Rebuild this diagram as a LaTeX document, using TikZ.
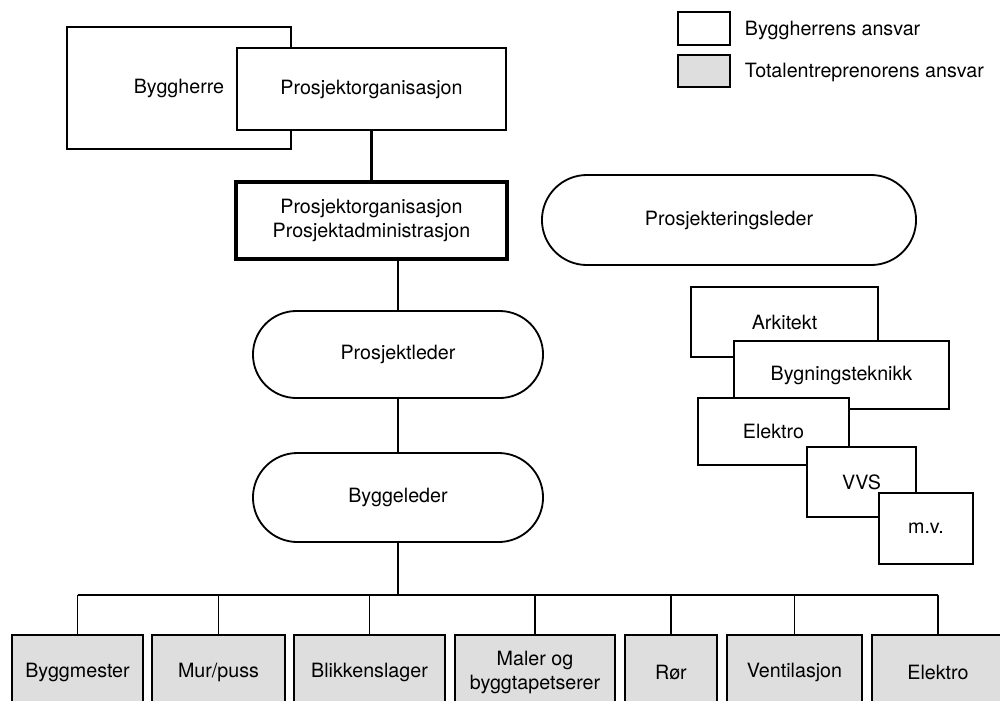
\documentclass[tikz,border=0pt]{standalone}
\usepackage{fontspec}
\setmainfont{TeX Gyre Heros}
\usetikzlibrary{calc, shapes, positioning}
\definecolor{entrgrey}{gray}{0.87}

\tikzset{
	boks/.style={draw, fill=white, line width=1.3pt, inner sep=0pt, align=center},
	tykkboks/.style={boks, line width=2.6pt},
	rundboks/.style={boks, rounded rectangle, rounded rectangle arc length=180},
	entrboks/.style={boks, fill=entrgrey},
	linje/.style={line width=1.2pt},
	tykklinje/.style={line width=2.6pt}
}

\begin{document}
\begin{tikzpicture}[x=0.025cm,y=-0.025cm,every node/.style={font=\fontsize{14}{17}\selectfont}]
	\useasboundingbox (0,0) rectangle (1000,700);

	\coordinate (BH)  at (179,88);
	\coordinate (PO)  at (371.5,89);
	\coordinate (PA)  at (371.5,220.5);
	\coordinate (PRL) at (729,220);
	\coordinate (PL)  at (398,354.5);
	\coordinate (BL)  at (398,497.5);
	\coordinate (bus) at (0,595);

	\coordinate (L1) at (704,28.5);
	\coordinate (L2) at (704,71);

	\coordinate (R1) at (784.5,322);
	\coordinate (R2) at (841.5,375);
	\coordinate (R3) at (773.5,431.5);
	\coordinate (R4) at (861.5,482);
	\coordinate (R5) at (926,528.5);

	% legend
	\node[boks,minimum width=1.3cm,minimum height=0.825cm] (leghvit) at (L1) {};
	\node[entrboks,minimum width=1.3cm,minimum height=0.8cm] (leggraa) at (L2) {};
	\node[anchor=west] (legtekst1) at (740,30) {Byggherrens ansvar};
	\node[anchor=west] (legtekst2) at (740,72) {Totalentreprenorens ansvar};

	% byggherre side
	\node[boks,minimum width=5.6cm,minimum height=3.05cm] (byggherre) at (BH) {Byggherre};
	\node[boks,line width=1.8pt,minimum width=6.725cm,minimum height=2.05cm] (org) at (PO) {Prosjektorganisasjon};
	\node[tykkboks,minimum width=6.775cm,minimum height=1.925cm] (adm) at (PA) {Prosjektorganisasjon\\Prosjektadministrasjon};
	\node[rundboks,minimum width=9.35cm,minimum height=2.25cm] (prl) at (PRL) {Prosjekteringsleder};
	\node[rundboks,minimum width=7.25cm,minimum height=2.175cm] (pl) at (PL) {Prosjektleder};
	\node[rundboks,minimum width=7.25cm,minimum height=2.225cm] (bl) at (BL) {Byggeleder};

	% prosjekterende
	\node[boks,minimum width=4.675cm,minimum height=1.75cm] (arkitekt) at (R1) {Arkitekt};
	\node[boks,minimum width=5.375cm,minimum height=1.7cm] (bygtek) at (R2) {Bygningsteknikk};
	\node[boks,minimum width=3.775cm,minimum height=1.675cm] (elprosj) at (R3) {Elektro};
	\node[boks,minimum width=2.725cm,minimum height=1.75cm] (vvs) at (R4) {VVS};
	\node[boks,minimum width=2.35cm,minimum height=1.775cm] (mv) at (R5) {m.v.};

	% entreprenorer
	\node[entrboks,minimum width=3.275cm,minimum height=1.875cm] (t1) at (77.5,672.5) {Byggmester};
	\node[entrboks,minimum width=3.325cm,minimum height=1.875cm] (t2) at (218.5,672.5) {Mur/puss};
	\node[entrboks,minimum width=3.775cm,minimum height=1.875cm] (t3) at (369.5,672.5) {Blikkenslager};
	\node[entrboks,minimum width=4cm,minimum height=1.875cm] (t4) at (535,672.5) {Maler og\\byggtapetserer};
	\node[entrboks,minimum width=2.3cm,minimum height=1.875cm] (t5) at (671,672.5) {Rør};
	\node[entrboks,minimum width=3.375cm,minimum height=1.875cm] (t6) at (794.5,672.5) {Ventilasjon};
	\node[entrboks,minimum width=3.3cm,minimum height=1.875cm] (t7) at (938,672.5) {Elektro};

	\draw[tykklinje] (org.south) -- (adm.north);
	\draw[linje] (pl.north) -- (pl.north |- adm.south);
	\draw[linje] (pl.south) -- (bl.north);
	\draw[linje] (bl.south) -- (bl.south |- bus);
	\draw[linje] (t1.north |- bus) -- (t7.north |- bus);
	\foreach \t in {t1,t2,t3,t4,t5,t6,t7}
		\draw[linje] (\t.north) -- (\t.north |- bus);
\end{tikzpicture}
\end{document}
